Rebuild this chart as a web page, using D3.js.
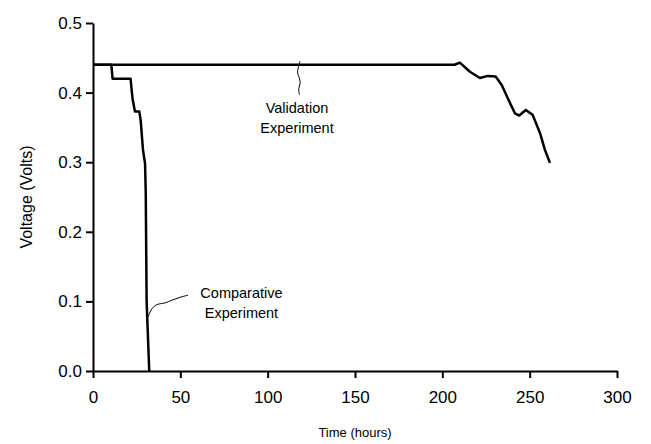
<!DOCTYPE html>
<meta charset="utf-8" />
<title>Voltage vs time</title>
<style>
  body { margin: 0; background: #fff; }
  text { font-family: "Liberation Sans", Arial, sans-serif; fill: #000; }
  .tick text { font-size: 17px; }
  .x-title { font-size: 13px; }
  .y-title { font-size: 16px; }
  .note { font-size: 14.5px; }
</style>
<body>
  <svg width="651" height="444"></svg>
  <script src="https://d3js.org/d3.v7.min.js"></script>
  <script>
    // Comparative experiment: [time (h), voltage (V)]
    const comparative = [
      [0, 0.44], [10.5, 0.44], [11.2, 0.42], [21.5, 0.42], [22.6, 0.392],
      [24, 0.373], [26.5, 0.373], [27.3, 0.36], [28.6, 0.318], [29.8, 0.298],
      [30.2, 0.256], [30.7, 0.10], [32.2, 0.0]
    ];
    // Validation experiment
    const validation = [
      [0, 0.44], [207, 0.44], [210, 0.443], [215.8, 0.43], [221.5, 0.421],
      [226, 0.424], [230.5, 0.423], [234, 0.411], [237.8, 0.390], [241.6, 0.370],
      [244, 0.367], [247.8, 0.375], [251.7, 0.368], [255.9, 0.342], [258.7, 0.318],
      [261.6, 0.299]
    ];
    const xTicks = [0, 50, 100, 150, 200, 250, 300];
    const yTicks = [0, 0.1, 0.2, 0.3, 0.4, 0.5];

    // leader lines for the notes, in data units
    const validationLeader = [
      [118.5, 0.445], [117.5, 0.436], [116.8, 0.428], [118.3, 0.421],
      [118.9, 0.413], [117.5, 0.406], [118.2, 0.397]
    ];
    const comparativeLeader = [
      [31.5, 0.078], [33.7, 0.091], [37.2, 0.097], [41.2, 0.097],
      [45.2, 0.102], [49.8, 0.106], [54.4, 0.109]
    ];

    const svg = d3.select("svg");
    const x = d3.scaleLinear().domain([0, 300]).range([93, 617]);
    const y = d3.scaleLinear().domain([0, 0.5]).range([371, 23]);

    // axes
    const xAxis = svg.append("g")
      .attr("transform", `translate(0,${y(0)})`)
      .call(d3.axisBottom(x).tickValues(xTicks).tickSize(7).tickPadding(13).tickSizeOuter(0));
    const yAxis = svg.append("g")
      .attr("transform", `translate(${x(0)},0)`)
      .call(d3.axisLeft(y).tickValues(yTicks).tickFormat(d3.format(".1f")).tickSize(7).tickPadding(4).tickSizeOuter(0));
    [xAxis, yAxis].forEach(a => {
      a.selectAll("path, line").attr("stroke", "#000").attr("stroke-width", 2);
    });

    svg.append("text").attr("class", "x-title")
      .attr("x", (x(0) + x(300)) / 2).attr("y", 437)
      .attr("text-anchor", "middle").text("Time (hours)");
    svg.append("text").attr("class", "y-title")
      .attr("transform", `translate(32,${(y(0) + y(0.5)) / 2}) rotate(-90)`)
      .attr("text-anchor", "middle").text("Voltage (Volts)");

    const line = d3.line().x(d => x(d[0])).y(d => y(d[1]));

    svg.append("path").datum(validation)
      .attr("d", line)
      .attr("fill", "none").attr("stroke", "#000").attr("stroke-width", 2.5)
      .attr("stroke-linejoin", "round");
    svg.append("path").datum(comparative)
      .attr("d", line)
      .attr("fill", "none").attr("stroke", "#000").attr("stroke-width", 2.5)
      .attr("stroke-linejoin", "round");

    // annotations
    const leader = d3.line().x(d => x(d[0])).y(d => y(d[1])).curve(d3.curveBasis);
    svg.append("path").datum(validationLeader).attr("d", leader)
      .attr("fill", "none").attr("stroke", "#000").attr("stroke-width", 1);
    svg.append("path").datum(comparativeLeader).attr("d", leader)
      .attr("fill", "none").attr("stroke", "#000").attr("stroke-width", 1);

    const notes = [
      { t: 116.8, v: 0.370, lines: ["Validation", "Experiment"] },
      { t: 85, v: 0.105, lines: ["Comparative", "Experiment"] }
    ];
    notes.forEach(n => {
      const txt = svg.append("text").attr("class", "note")
        .attr("x", x(n.t)).attr("y", y(n.v)).attr("text-anchor", "middle");
      n.lines.forEach((s, i) => txt.append("tspan")
        .attr("x", x(n.t)).attr("dy", i === 0 ? 0 : 20).text(s));
    });
  </script>
</body>
